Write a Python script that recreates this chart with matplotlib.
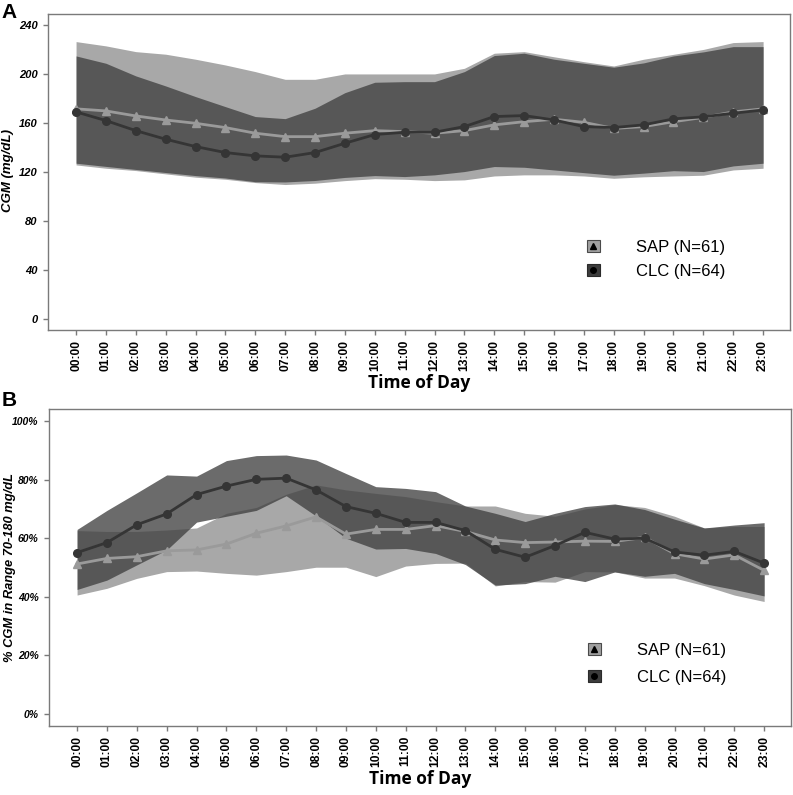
import numpy as np
import matplotlib
matplotlib.use('Agg')
import matplotlib.pyplot as plt
from matplotlib.patches import Patch
from matplotlib.lines import Line2D

plt.rcParams['font.family'] = ['Liberation Sans', 'DejaVu Sans']

hours = ['00:00', '01:00', '02:00', '03:00', '04:00', '05:00', '06:00', '07:00',
         '08:00', '09:00', '10:00', '11:00', '12:00', '13:00', '14:00', '15:00',
         '16:00', '17:00', '18:00', '19:00', '20:00', '21:00', '22:00', '23:00']

# Panel A - mean CGM (mg/dL) with band
sap_cgm = [171.5, 169.8, 165.7, 162.4, 159.7, 156.2, 151.6, 148.8, 148.8, 151.6, 153.7, 152.9,
           151.6, 153.7, 158.4, 161.0, 163.0, 160.5, 155.5, 157.0, 161.0, 164.5, 169.0, 171.5]
sap_cgm_hi = [226.4, 222.9, 218.2, 216.1, 212.0, 207.3, 201.9, 195.6, 195.6, 200.0, 200.0, 200.0,
              200.0, 204.6, 216.9, 218.2, 214.0, 210.0, 206.5, 212.0, 216.0, 220.0, 225.6, 226.4]
sap_cgm_lo = [125.7, 123.0, 121.1, 118.4, 115.7, 114.0, 111.3, 109.7, 110.8, 112.9, 114.5, 114.0,
              112.9, 113.5, 116.7, 117.6, 117.6, 116.7, 114.8, 116.0, 116.7, 117.3, 121.6, 123.0]
clc_cgm = [169.0, 161.9, 153.7, 146.7, 140.7, 135.8, 133.1, 132.0, 135.8, 143.4, 150.5, 152.4,
           152.4, 157.0, 165.2, 166.0, 162.4, 157.0, 156.2, 158.4, 163.3, 165.0, 167.9, 170.6]
clc_cgm_hi = [214.7, 208.7, 198.4, 190.2, 181.5, 173.3, 165.2, 163.5, 172.0, 184.7, 193.2, 193.7,
              193.7, 201.9, 215.0, 216.9, 212.0, 208.7, 205.5, 209.0, 214.7, 218.0, 222.3, 222.3]
clc_cgm_lo = [127.1, 124.5, 122.0, 119.5, 117.0, 115.0, 112.0, 111.8, 113.0, 115.5, 117.0, 116.2,
              117.6, 120.3, 124.4, 123.8, 121.6, 119.4, 117.3, 119.0, 121.0, 120.3, 124.9, 127.1]

# Panel B - % CGM in range 70-180 mg/dL with band
sap_tir = [51.2, 53.1, 53.7, 55.7, 56.0, 58.0, 61.7, 64.2, 67.3, 61.4, 63.0, 63.0,
           64.3, 62.3, 59.4, 58.5, 58.7, 59.0, 58.9, 60.3, 54.7, 52.9, 54.3, 49.0]
sap_tir_hi = [62.6, 62.3, 62.3, 62.8, 63.5, 68.5, 70.5, 75.0, 78.2, 76.5, 75.3, 74.2,
              72.5, 71.0, 71.0, 68.5, 67.5, 70.0, 71.5, 70.5, 67.5, 63.5, 64.0, 64.0]
sap_tir_lo = [40.6, 42.9, 46.3, 48.6, 48.8, 48.0, 47.4, 48.6, 50.1, 50.1, 46.9, 50.5,
              51.4, 51.5, 43.7, 45.2, 45.0, 48.6, 48.5, 46.4, 46.4, 43.8, 40.6, 38.4]
clc_tir = [55.1, 58.5, 64.6, 68.3, 74.9, 77.8, 80.1, 80.5, 76.5, 70.8, 68.5, 65.4,
           65.4, 62.6, 56.2, 53.5, 57.5, 62.0, 59.7, 60.0, 55.3, 54.2, 55.5, 51.5]
clc_tir_hi = [63.0, 69.5, 75.5, 81.6, 81.2, 86.5, 88.2, 88.4, 86.7, 82.1, 77.6, 77.0,
              75.9, 71.0, 68.5, 65.7, 68.5, 70.8, 71.7, 69.8, 66.5, 63.5, 64.5, 65.3]
clc_tir_lo = [42.5, 45.7, 50.9, 56.0, 65.5, 67.5, 69.5, 74.5, 67.6, 60.0, 56.3, 56.5,
              54.8, 51.0, 44.0, 44.5, 47.0, 45.2, 48.5, 47.0, 48.0, 44.5, 42.5, 40.3]

sap_label = 'SAP (N=61)'
clc_label = 'CLC (N=64)'

sap_band = '#a8a8a8'
clc_band = '#414141'
sap_line = '#9a9a9a'
clc_line = '#353535'

fig = plt.figure(figsize=(7.93, 7.95), dpi=100)
axA = fig.add_axes([0.0605, 0.585, 0.9357, 0.3975])
axB = fig.add_axes([0.0618, 0.0868, 0.9357, 0.3987])

x = np.arange(len(hours))


def draw_panel(ax, sap, sap_hi, sap_lo, clc, clc_hi, clc_lo):
    ax.fill_between(x, sap_lo, sap_hi, color=sap_band, lw=0, zorder=1)
    ax.fill_between(x, clc_lo, clc_hi, color=clc_band, alpha=0.78, lw=0, zorder=2)
    ax.plot(x, sap, color=sap_line, lw=2.0, marker='^', ms=5.5, zorder=3)
    ax.plot(x, clc, color=clc_line, lw=2.0, marker='o', ms=5.5, zorder=4)

    ax.set_xlim(-0.94, 23.9)
    ax.set_xticks(x)
    ax.set_xticklabels(hours, rotation=90, fontsize=8.7, fontweight='bold')
    for s in ax.spines.values():
        s.set_color('#7a7a7a')
        s.set_linewidth(1.0)
    ax.tick_params(axis='both', direction='out', length=3.5, width=1, color='#7a7a7a')
    ax.tick_params(axis='x', pad=3.5)
    ax.tick_params(axis='y', pad=4)
    ax.set_xlabel('Time of Day', fontsize=12.5, fontweight='bold',
                  family=['Open Sans', 'DejaVu Sans'], labelpad=2)

    handles = [
        (Patch(facecolor='#a0a0a0', edgecolor='#4a4a4a', lw=0.8),
         Line2D([], [], marker='^', color='black', ls='', ms=4.5)),
        (Patch(facecolor='#3c3c3c', edgecolor='#2a2a2a', lw=0.8),
         Line2D([], [], marker='o', color='black', ls='', ms=4)),
    ]
    return handles


hA = draw_panel(axA, sap_cgm, sap_cgm_hi, sap_cgm_lo, clc_cgm, clc_cgm_hi, clc_cgm_lo)
axA.set_ylim(-9, 249)
axA.set_yticks([0, 40, 80, 120, 160, 200, 240])
axA.set_yticklabels(['0', '40', '80', '120', '160', '200', '240'],
                    fontweight='bold', fontstyle='italic', fontsize=8)
axA.set_ylabel('CGM (mg/dL)', fontsize=9.5, fontweight='bold', fontstyle='italic')
axA.yaxis.set_label_coords(-0.046, 0.506)
axA.legend(hA, [sap_label, clc_label], loc='center', bbox_to_anchor=(0.82, 0.223),
           frameon=False, fontsize=12, handlelength=0.75, handleheight=0.7,
           handletextpad=2.2, labelspacing=0.55)

hB = draw_panel(axB, sap_tir, sap_tir_hi, sap_tir_lo, clc_tir, clc_tir_hi, clc_tir_lo)
axB.set_ylim(-4.1, 104.1)
axB.set_yticks([0, 20, 40, 60, 80, 100])
axB.set_yticklabels(['0%', '20%', '40%', '60%', '80%', '100%'],
                    fontweight='bold', fontstyle='italic', fontsize=7.5)
axB.set_ylabel('% CGM in Range 70-180 mg/dL', fontsize=9.3, fontweight='bold', fontstyle='italic')
axB.yaxis.set_label_coords(-0.044, 0.5)
axB.legend(hB, [sap_label, clc_label], loc='center', bbox_to_anchor=(0.82, 0.196),
           frameon=False, fontsize=12, handlelength=0.75, handleheight=0.7,
           handletextpad=2.2, labelspacing=0.7)

fig.text(0.002, 0.996, 'A', fontsize=15, fontweight='bold', va='top', ha='left')
fig.text(0.002, 0.508, 'B', fontsize=15, fontweight='bold', va='top', ha='left')

fig.savefig('out.png', dpi=100)
